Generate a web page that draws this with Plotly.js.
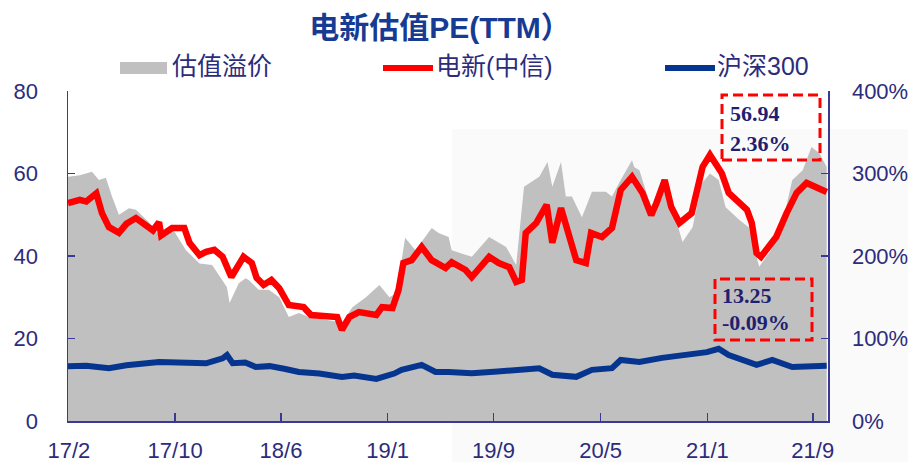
<!DOCTYPE html>
<html>
<head>
<meta charset="utf-8">
<script src="https://cdn.plot.ly/plotly-3.0.1.min.js"></script>
<style>html,body{margin:0;padding:0;background:#fff;}#chart{width:908px;height:462px;}</style>
</head>
<body>
<div id="chart"></div>
<script>
// ---------- data ----------
const elecDates = ['2017-02-01','2017-02-28','2017-03-15','2017-03-28','2017-04-07','2017-04-20','2017-05-06','2017-05-29','2017-06-15','2017-07-07','2017-07-30','2017-08-15','2017-08-29','2017-09-03','2017-09-28','2017-10-26','2017-11-07','2017-11-30','2017-12-15','2018-01-03','2018-01-22','2018-02-11','2018-03-11','2018-03-30','2018-04-10','2018-04-26','2018-05-14','2018-06-01','2018-06-23','2018-07-27','2018-08-13','2018-09-23','2018-10-12','2018-10-23','2018-11-09','2018-12-01','2019-01-10','2019-01-23','2019-02-16','2019-03-02','2019-03-13','2019-04-01','2019-04-24','2019-05-17','2019-06-18','2019-07-02','2019-08-03','2019-08-17','2019-09-26','2019-10-18','2019-11-11','2019-11-27','2019-12-10','2019-12-19','2020-01-12','2020-02-05','2020-02-18','2020-03-09','2020-03-27','2020-04-13','2020-05-05','2020-05-17','2020-06-11','2020-07-04','2020-07-24','2020-08-19','2020-09-12','2020-10-02','2020-10-14','2020-11-02','2020-11-17','2020-12-06','2021-01-03','2021-01-28','2021-02-14','2021-03-02','2021-03-13','2021-03-29','2021-04-22','2021-05-10','2021-05-21','2021-06-01','2021-06-11','2021-06-30','2021-07-16','2021-08-09','2021-09-01','2021-09-24','2021-10-16','2021-11-09'];
const elecPE = [52.8,53.6,53.2,54.3,55.2,50.4,47.0,45.6,47.8,49.2,47.5,46.2,48.2,45.0,46.8,46.8,43.2,40.2,41.0,41.5,39.8,34.9,39.8,38.3,34.7,33.0,34.2,32.2,28.1,27.6,25.7,25.2,25.2,22.1,25.2,26.4,25.7,27.6,27.4,31.8,38.3,39.0,42.2,39.0,37.1,38.5,36.6,34.9,39.8,38.3,37.3,33.7,34.2,45.6,48.0,52.4,43.2,51.6,44.6,39.0,38.3,45.6,44.6,46.8,56.0,59.2,55.3,49.9,52.8,58.4,51.9,48.0,50.4,61.6,64.5,61.6,60.1,55.3,52.8,51.2,48.0,40.7,39.8,42.7,44.6,50.4,55.3,57.7,56.5,55.5];

const hsDates = ['2017-02-01','2017-03-15','2017-05-06','2017-06-15','2017-08-29','2017-10-15','2017-12-15','2018-01-22','2018-02-01','2018-02-14','2018-03-15','2018-04-08','2018-05-10','2018-06-15','2018-07-16','2018-09-01','2018-10-23','2018-11-20','2019-01-10','2019-02-20','2019-03-09','2019-04-24','2019-05-26','2019-06-25','2019-08-17','2019-10-15','2020-01-19','2020-02-18','2020-04-13','2020-05-19','2020-07-04','2020-07-24','2020-09-05','2020-10-27','2021-02-07','2021-03-06','2021-03-29','2021-06-01','2021-07-07','2021-08-22','2021-10-01','2021-11-09'];
const hsPE = [13.3,13.4,12.8,13.5,14.3,14.2,14.0,15.2,16.0,14.0,14.2,13.1,13.3,12.6,11.9,11.5,10.7,11.0,10.2,11.5,12.4,13.6,11.9,11.9,11.6,12.0,12.8,11.2,10.7,12.4,12.8,14.8,14.3,15.3,16.7,17.5,16.0,13.6,14.8,13.1,13.1,13.4];

const premDates = ['2017-02-01','2017-02-28','2017-03-28','2017-04-13','2017-04-29','2017-05-13','2017-05-29','2017-06-21','2017-07-07','2017-08-06','2017-08-29','2017-09-28','2017-10-30','2017-11-30','2017-12-29','2018-02-01','2018-02-07','2018-02-28','2018-03-16','2018-03-23','2018-04-15','2018-05-08','2018-06-01','2018-06-23','2018-07-16','2018-08-08','2018-09-23','2018-10-23','2018-11-16','2018-12-17','2019-01-17','2019-02-09','2019-02-25','2019-03-17','2019-04-10','2019-05-17','2019-06-02','2019-06-25','2019-07-02','2019-08-17','2019-09-26','2019-11-04','2019-11-27','2019-12-15','2020-01-19','2020-02-07','2020-02-18','2020-03-09','2020-03-20','2020-04-03','2020-04-26','2020-05-19','2020-06-20','2020-07-04','2020-07-24','2020-08-19','2020-08-24','2020-09-05','2020-09-12','2020-10-02','2020-10-27','2020-11-17','2020-12-13','2021-01-05','2021-01-26','2021-02-14','2021-03-06','2021-03-22','2021-04-22','2021-05-14','2021-06-07','2021-06-30','2021-07-23','2021-08-22','2021-09-15','2021-10-05','2021-10-23','2021-11-09'];
const premium = [296,298,302,292,295,272,250,258,256,241,225,234,207,191,189,162,143,167,173,171,159,159,150,126,131,126,122,119,138,150,165,150,155,222,207,234,228,223,207,199,223,211,189,284,296,314,284,314,272,272,247,278,278,272,292,316,308,304,292,259,292,264,217,235,288,300,292,259,244,235,187,204,223,292,304,332,325,308];

const tickDates = ['2017-02-03','2017-10-05','2018-06-05','2019-02-05','2019-10-06','2020-06-08','2021-02-08','2021-10-08'];
const tickLabels = ['17/2','17/10','18/6','19/1','19/9','20/5','21/1','21/9'];

const seriesNames = ['估值溢价','电新(中信)','沪深300'];
const boxValues = ['56.94','13.25'];
const boxChanges = ['2.36%','-0.09%'];

// ---------- styling ----------
const AX = '#3a3a96';
const TXT = '#2c2c7c';
const RED = '#ff0000';
const BLUE = '#06358f';
const GRAY = '#c0c0c0';
const FONT = 'Liberation Sans, Arial, Noto Sans CJK SC, sans-serif';
const SERIF = 'Liberation Serif, Times New Roman, serif';

const L = 68, R = 828, T = 91, B = 421;
const px = x => (x - L) / (R - L);
const py = y => (B - y) / (B - T);

const traces = [
  {x: premDates, y: premium, type: 'scatter', mode: 'lines', name: seriesNames[0],
   fill: 'tozeroy', fillcolor: GRAY, line: {width: 0, color: GRAY}, yaxis: 'y', showlegend: false, hoverinfo: 'skip'},
  {x: hsDates, y: hsPE, type: 'scatter', mode: 'lines', name: seriesNames[2],
   line: {width: 6, color: BLUE}, yaxis: 'y2', showlegend: false},
  {x: elecDates, y: elecPE, type: 'scatter', mode: 'lines', name: seriesNames[1],
   line: {width: 6.5, color: RED}, yaxis: 'y2', showlegend: false}
];

const shapes = [
  // faint backdrop patch seen in the reference
  {type: 'rect', xref: 'paper', yref: 'paper', x0: px(452), x1: px(908), y0: py(462), y1: py(129),
   fillcolor: '#fafafa', line: {width: 0}, layer: 'below'},
  // legend swatches
  {type: 'rect', xref: 'paper', yref: 'paper', x0: px(120), x1: px(167), y0: py(74), y1: py(62),
   fillcolor: GRAY, line: {width: 0}},
  {type: 'line', xref: 'paper', yref: 'paper', x0: px(383), x1: px(433), y0: py(68), y1: py(68),
   line: {width: 6, color: RED}},
  {type: 'line', xref: 'paper', yref: 'paper', x0: px(665), x1: px(715), y0: py(68), y1: py(68),
   line: {width: 6, color: BLUE}},
  // dashed callout boxes
  {type: 'rect', xref: 'paper', yref: 'paper', x0: px(722), x1: px(820), y0: py(160), y1: py(95),
   line: {width: 3, color: RED, dash: '10px,5px'}},
  {type: 'rect', xref: 'paper', yref: 'paper', x0: px(715), x1: px(812), y0: py(340), y1: py(279),
   line: {width: 3, color: RED, dash: '10px,5px'}}
];

const legendFont = {size: 25, color: TXT, family: FONT};
const boxFont = {size: 22, color: '#1f1f72', family: SERIF};
const annotations = [
  {text: seriesNames[0], x: px(170), y: py(66), xanchor: 'left', yanchor: 'middle'},
  {text: seriesNames[1], x: px(434), y: py(66), xanchor: 'left', yanchor: 'middle'},
  {text: seriesNames[2], x: px(715), y: py(66), xanchor: 'left', yanchor: 'middle'}
].map(a => Object.assign(a, {xref: 'paper', yref: 'paper', showarrow: false, font: legendFont}));

[[boxValues[0], 728, 113], [boxChanges[0], 728, 143], [boxValues[1], 720, 295], [boxChanges[1], 720, 322]]
  .forEach(([t, x, y]) => annotations.push({text: '<b>' + t + '</b>', x: px(x), y: py(y), xref: 'paper', yref: 'paper',
    xanchor: 'left', yanchor: 'middle', showarrow: false, font: boxFont}));

const tickFont = {size: 22, color: TXT, family: FONT};
const layout = {
  width: 908, height: 462, autosize: false,
  margin: {l: L, r: 908 - R, t: T, b: 462 - B, pad: 0},
  paper_bgcolor: '#ffffff', plot_bgcolor: 'rgba(0,0,0,0)',
  font: {family: FONT, color: TXT},
  showlegend: false,
  title: {text: '<b>电新估值PE(TTM）</b>', x: 440 / 908, xref: 'container', xanchor: 'center',
          y: 1 - 27 / 462, yref: 'container', yanchor: 'middle',
          font: {size: 30, color: '#173b93', family: FONT}},
  xaxis: {type: 'date', range: ['2017-02-01', '2021-11-12'], tickvals: tickDates, ticktext: tickLabels,
          ticks: 'inside', ticklen: 8, tickwidth: 1.5, tickcolor: AX, showline: true, linecolor: AX, linewidth: 1.5,
          showgrid: false, zeroline: false, tickfont: tickFont, ticklabelstandoff: 9},
  yaxis: {range: [0, 400], dtick: 100, tick0: 0, ticksuffix: '%', side: 'right',
          ticks: 'inside', ticklen: 7, tickwidth: 1.5, tickcolor: AX, showline: true, linecolor: AX, linewidth: 1.5,
          showgrid: false, zeroline: false, tickfont: tickFont, ticklabelstandoff: 18},
  yaxis2: {range: [0, 80], dtick: 20, tick0: 0, side: 'left', overlaying: 'y',
          ticks: 'inside', ticklen: 7, tickwidth: 1.5, tickcolor: AX, showline: true, linecolor: AX, linewidth: 1.5,
          showgrid: false, zeroline: false, tickfont: tickFont, ticklabelstandoff: 24},
  shapes: shapes,
  annotations: annotations
};

Plotly.newPlot('chart', traces, layout, {displayModeBar: false, staticPlot: true});
</script>
</body>
</html>
